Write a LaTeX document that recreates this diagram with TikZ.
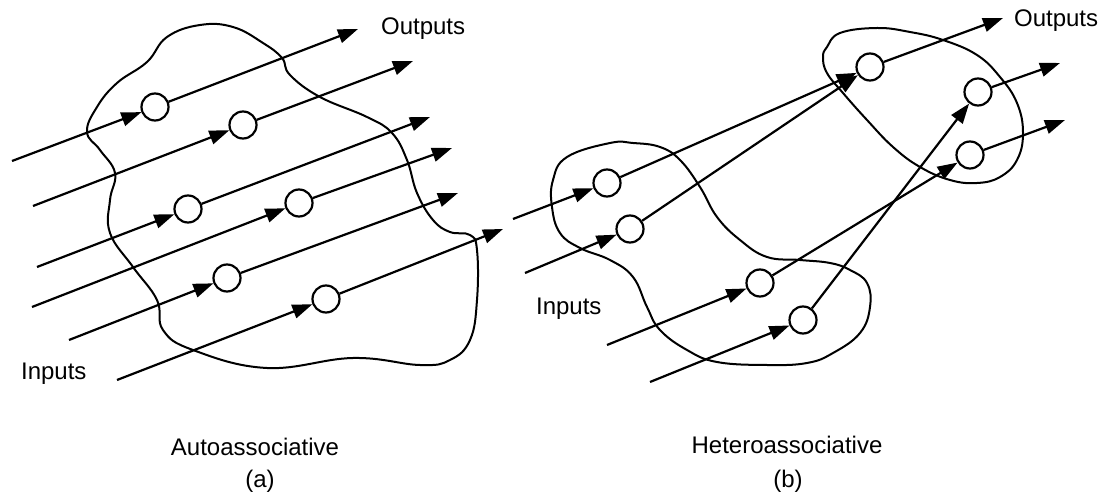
\documentclass[tikz,border=0pt]{standalone}
\usepackage{fontspec}
\setmainfont{Liberation Sans}
\usetikzlibrary{arrows.meta}
\begin{document}
\begin{tikzpicture}[x=1pt,y=-1pt,line width=2.2pt,
  unit/.style={circle,draw,fill=white,minimum size=27pt,inner sep=0pt},
  flow/.style={-{Triangle[length=20pt,width=14pt]}},
  blob/.style={line width=2pt},
  lbl/.style={font=\fontsize{24}{29}\selectfont,inner sep=0pt}]
\useasboundingbox (0,0) rectangle (1109,494);
% (a) autoassociative
\draw[blob] plot[smooth cycle,tension=0.7] coordinates {(200,25) (233,27) (263,43) (282,58) (290,75)
  (320,97) (367,117) (392,133) (407,160) (417,193) (433,220) (450,232) (470,235) (477,250) (477,300)
  (470,340) (450,360) (420,365) (353,358) (267,368) (193,350) (163,330) (157,300) (133,267) (110,233)
  (110,200) (115,173) (100,150) (87,132) (97,107) (117,83) (147,62) (167,37)};
\node[unit] (a1) at (155,107) {};
\node[unit] (a2) at (243,125) {};
\node[unit] (a3) at (188,209) {};
\node[unit] (a4) at (299,203) {};
\node[unit] (a5) at (227,278) {};
\node[unit] (a6) at (326,299) {};
\coordinate (ia1) at (12,161);  \coordinate (oa1) at (358,29);
\coordinate (ia2) at (33,206);  \coordinate (oa2) at (413,61);
\coordinate (ia3) at (37,267);  \coordinate (oa3) at (430,117);
\coordinate (ia4) at (32,307);  \coordinate (oa4) at (452,148);
\coordinate (ia5) at (69,340);  \coordinate (oa5) at (458,193);
\coordinate (ia6) at (117,380); \coordinate (oa6) at (503,229);
\foreach \i in {1,...,6} {
  \draw[flow] (ia\i) -- (a\i);
  \draw[flow] (a\i) -- (oa\i);
}
\node[lbl,anchor=base west] (outa) at (380,35) {Outputs};
\node[lbl,anchor=base west] (ina) at (20,380) {Inputs};
\node[lbl,anchor=base] (capa) at (255,455) {Autoassociative};
\node[lbl,anchor=base] (taga) at (260,487) {(a)};
% (b) heteroassociative
\draw[blob] plot[smooth cycle,tension=0.7] coordinates {(610,143) (567,157) (553,180) (552,207)
  (560,233) (580,248) (610,260) (633,277) (647,307) (660,330) (687,350) (717,362) (767,365) (807,363)
  (833,353) (860,333) (870,307) (867,283) (850,270) (830,263) (800,260) (767,257) (740,240) (717,217)
  (700,187) (680,160) (660,147) (633,143)};
\draw[blob] plot[smooth cycle,tension=0.7] coordinates {(827,47) (840,33) (877,28) (910,32) (943,40)
  (977,55) (1000,77) (1017,103) (1023,133) (1017,160) (1000,177) (977,183) (950,180) (920,167)
  (893,147) (867,120) (843,93) (827,73) (823,57)};
\node[unit] (b1) at (607,183) {};
\node[unit] (b2) at (630,229) {};
\node[unit] (b3) at (760,283) {};
\node[unit] (b4) at (803,320) {};
\node[unit] (b5) at (870,67) {};
\node[unit] (b6) at (978,92) {};
\node[unit] (b7) at (970,155) {};
\coordinate (ib1) at (513,219);
\coordinate (ib2) at (525,273);
\coordinate (ib3) at (607,345);
\coordinate (ib4) at (650,382);
\coordinate (ob5) at (1003,18);
\coordinate (ob6) at (1060,63);
\coordinate (ob7) at (1065,120);
\foreach \i in {1,...,4}
  \draw[flow] (ib\i) -- (b\i);
\draw[flow] (b1) -- (b5);
\draw[flow] (b2) -- (b5);
\draw[flow] (b3) -- (b7);
\draw[flow] (b4) -- (b6);
\foreach \i in {5,6,7}
  \draw[flow] (b\i) -- (ob\i);
\node[lbl,anchor=base west] (outb) at (1013,27) {Outputs};
\node[lbl,anchor=base west] (inb) at (535,315) {Inputs};
\node[lbl,anchor=base] (capb) at (787,453) {Heteroassociative};
\node[lbl,anchor=base] (tagb) at (788,487) {(b)};
\end{tikzpicture}
\end{document}
